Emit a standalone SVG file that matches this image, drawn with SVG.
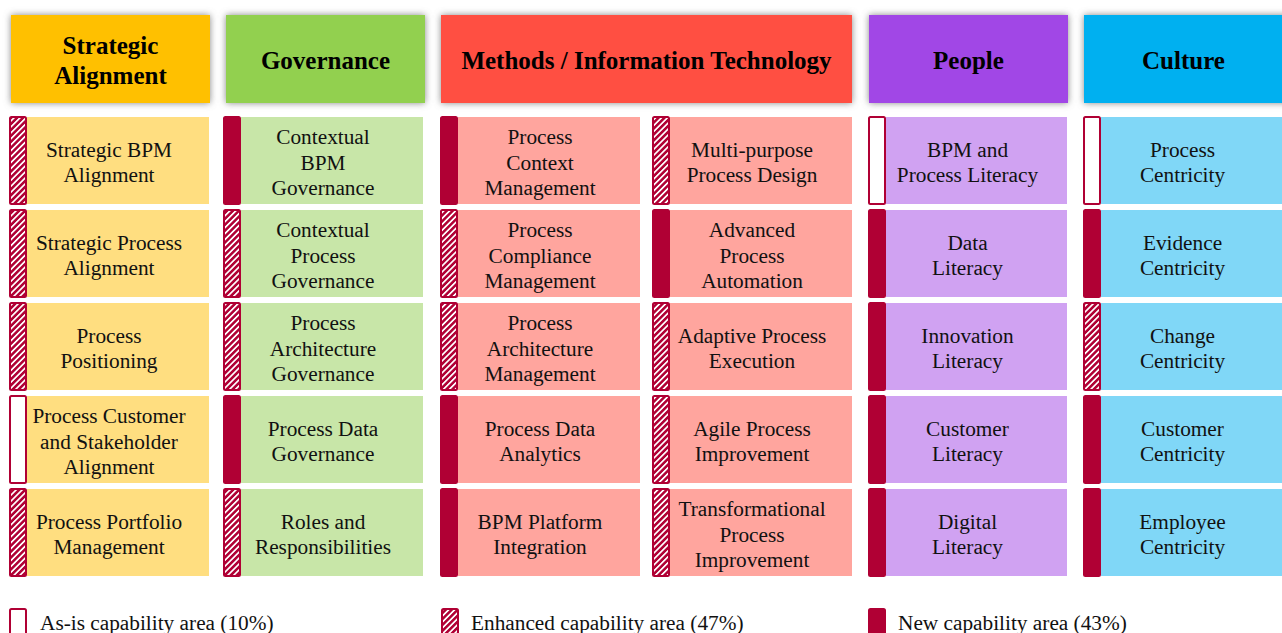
<svg xmlns="http://www.w3.org/2000/svg" width="1282" height="633" viewBox="0 0 1282 633">
<style>
.h{font-family:"Liberation Serif","Times New Roman",serif;font-weight:bold;font-size:25px;text-anchor:middle;fill:#000}
.t{font-family:"Liberation Serif","Times New Roman",serif;font-size:21.3px;text-anchor:middle;fill:#111}
.lg{font-family:"Liberation Serif","Times New Roman",serif;font-size:21.3px;fill:#111}
.new{fill:#B00034;stroke:#B00034;stroke-width:2}
.enh{fill:url(#hatch);stroke:#B00034;stroke-width:2}
.asis{fill:#fff;stroke:#B00034;stroke-width:2}
.sa{fill:#FFDE80}.go{fill:#C8E6A8}.me{fill:#FFA59E}.pe{fill:#D0A2F2}.cu{fill:#80D7F7}
</style>
<defs>
<pattern id="hatch" patternUnits="userSpaceOnUse" width="4.2" height="4.2" patternTransform="rotate(45)">
<rect width="4.2" height="4.2" fill="#B00034"/>
<rect x="0" y="0" width="1.7" height="4.2" fill="#fff"/>
</pattern>
<filter id="sh" x="-10%" y="-20%" width="120%" height="140%">
<feDropShadow dx="0" dy="0" stdDeviation="3.5" flood-color="#7a7a7a" flood-opacity="0.9"/>
</filter>
</defs>
<rect width="1282" height="633" fill="#fff"/>

<g id="headers">
<g id="h-strategic"><rect x="11" y="15" width="199" height="88" fill="#FFC000" filter="url(#sh)"/><text class="h" x="110.5" y="54">Strategic</text><text class="h" x="110.5" y="84">Alignment</text></g>
<g id="h-governance"><rect x="226" y="15" width="199" height="88" fill="#92D050" filter="url(#sh)"/><text class="h" x="325.5" y="69">Governance</text></g>
<g id="h-methods"><rect x="441" y="15" width="411" height="88" fill="#FF5042" filter="url(#sh)"/><text class="h" x="646.5" y="69">Methods / Information Technology</text></g>
<g id="h-people"><rect x="869" y="15" width="199" height="88" fill="#A146E6" filter="url(#sh)"/><text class="h" x="968.5" y="69">People</text></g>
<g id="h-culture"><rect x="1084" y="15" width="210" height="88" fill="#00B0F0" filter="url(#sh)"/><text class="h" x="1183.5" y="69">Culture</text></g>
</g>

<g id="connectors"></g>

<g id="cells">
<g id="c-sa1"><rect class="sa" x="27" y="117" width="182" height="87"/><rect class="enh" x="10" y="117" width="16" height="87" rx="1.5"/><text class="t" x="109" y="156.8">Strategic BPM</text><text class="t" x="109" y="182.3">Alignment</text></g>
<g id="c-sa2"><rect class="sa" x="27" y="210" width="182" height="87"/><rect class="enh" x="10" y="210" width="16" height="87" rx="1.5"/><text class="t" x="109" y="249.8">Strategic Process</text><text class="t" x="109" y="275.3">Alignment</text></g>
<g id="c-sa3"><rect class="sa" x="27" y="303" width="182" height="87"/><rect class="enh" x="10" y="303" width="16" height="87" rx="1.5"/><text class="t" x="109" y="342.8">Process</text><text class="t" x="109" y="368.3">Positioning</text></g>
<g id="c-sa4"><rect class="sa" x="27" y="396" width="182" height="87"/><rect class="asis" x="10" y="396" width="16" height="87" rx="1.5"/><text class="t" x="109" y="423">Process Customer</text><text class="t" x="109" y="448.5">and Stakeholder</text><text class="t" x="109" y="474">Alignment</text></g>
<g id="c-sa5"><rect class="sa" x="27" y="489" width="182" height="87"/><rect class="enh" x="10" y="489" width="16" height="87" rx="1.5"/><text class="t" x="109" y="528.8">Process Portfolio</text><text class="t" x="109" y="554.3">Management</text></g>

<g id="c-go1"><rect class="go" x="241" y="117" width="182" height="87"/><rect class="new" x="224" y="117" width="16" height="87" rx="1.5"/><text class="t" x="323" y="144">Contextual</text><text class="t" x="323" y="169.5">BPM</text><text class="t" x="323" y="195">Governance</text></g>
<g id="c-go2"><rect class="go" x="241" y="210" width="182" height="87"/><rect class="enh" x="224" y="210" width="16" height="87" rx="1.5"/><text class="t" x="323" y="237">Contextual</text><text class="t" x="323" y="262.5">Process</text><text class="t" x="323" y="288">Governance</text></g>
<g id="c-go3"><rect class="go" x="241" y="303" width="182" height="87"/><rect class="enh" x="224" y="303" width="16" height="87" rx="1.5"/><text class="t" x="323" y="330">Process</text><text class="t" x="323" y="355.5">Architecture</text><text class="t" x="323" y="381">Governance</text></g>
<g id="c-go4"><rect class="go" x="241" y="396" width="182" height="87"/><rect class="new" x="224" y="396" width="16" height="87" rx="1.5"/><text class="t" x="323" y="435.8">Process Data</text><text class="t" x="323" y="461.3">Governance</text></g>
<g id="c-go5"><rect class="go" x="241" y="489" width="182" height="87"/><rect class="enh" x="224" y="489" width="16" height="87" rx="1.5"/><text class="t" x="323" y="528.8">Roles and</text><text class="t" x="323" y="554.3">Responsibilities</text></g>

<g id="c-ma1"><rect class="me" x="458" y="117" width="182" height="87"/><rect class="new" x="441" y="117" width="16" height="87" rx="1.5"/><text class="t" x="540" y="144">Process</text><text class="t" x="540" y="169.5">Context</text><text class="t" x="540" y="195">Management</text></g>
<g id="c-ma2"><rect class="me" x="458" y="210" width="182" height="87"/><rect class="enh" x="441" y="210" width="16" height="87" rx="1.5"/><text class="t" x="540" y="237">Process</text><text class="t" x="540" y="262.5">Compliance</text><text class="t" x="540" y="288">Management</text></g>
<g id="c-ma3"><rect class="me" x="458" y="303" width="182" height="87"/><rect class="enh" x="441" y="303" width="16" height="87" rx="1.5"/><text class="t" x="540" y="330">Process</text><text class="t" x="540" y="355.5">Architecture</text><text class="t" x="540" y="381">Management</text></g>
<g id="c-ma4"><rect class="me" x="458" y="396" width="182" height="87"/><rect class="new" x="441" y="396" width="16" height="87" rx="1.5"/><text class="t" x="540" y="435.8">Process Data</text><text class="t" x="540" y="461.3">Analytics</text></g>
<g id="c-ma5"><rect class="me" x="458" y="489" width="182" height="87"/><rect class="new" x="441" y="489" width="16" height="87" rx="1.5"/><text class="t" x="540" y="528.8">BPM Platform</text><text class="t" x="540" y="554.3">Integration</text></g>

<g id="c-mb1"><rect class="me" x="670" y="117" width="182" height="87"/><rect class="enh" x="653" y="117" width="16" height="87" rx="1.5"/><text class="t" x="752" y="156.8">Multi-purpose</text><text class="t" x="752" y="182.3">Process Design</text></g>
<g id="c-mb2"><rect class="me" x="670" y="210" width="182" height="87"/><rect class="new" x="653" y="210" width="16" height="87" rx="1.5"/><text class="t" x="752" y="237">Advanced</text><text class="t" x="752" y="262.5">Process</text><text class="t" x="752" y="288">Automation</text></g>
<g id="c-mb3"><rect class="me" x="670" y="303" width="182" height="87"/><rect class="enh" x="653" y="303" width="16" height="87" rx="1.5"/><text class="t" x="752" y="342.8">Adaptive Process</text><text class="t" x="752" y="368.3">Execution</text></g>
<g id="c-mb4"><rect class="me" x="670" y="396" width="182" height="87"/><rect class="enh" x="653" y="396" width="16" height="87" rx="1.5"/><text class="t" x="752" y="435.8">Agile Process</text><text class="t" x="752" y="461.3">Improvement</text></g>
<g id="c-mb5"><rect class="me" x="670" y="489" width="182" height="87"/><rect class="enh" x="653" y="489" width="16" height="87" rx="1.5"/><text class="t" x="752" y="516">Transformational</text><text class="t" x="752" y="541.5">Process</text><text class="t" x="752" y="567">Improvement</text></g>

<g id="c-pe1"><rect class="pe" x="886" y="117" width="181" height="87"/><rect class="asis" x="869" y="117" width="16" height="87" rx="1.5"/><text class="t" x="967.5" y="156.8">BPM and</text><text class="t" x="967.5" y="182.3">Process Literacy</text></g>
<g id="c-pe2"><rect class="pe" x="886" y="210" width="181" height="87"/><rect class="new" x="869" y="210" width="16" height="87" rx="1.5"/><text class="t" x="967.5" y="249.8">Data</text><text class="t" x="967.5" y="275.3">Literacy</text></g>
<g id="c-pe3"><rect class="pe" x="886" y="303" width="181" height="87"/><rect class="new" x="869" y="303" width="16" height="87" rx="1.5"/><text class="t" x="967.5" y="342.8">Innovation</text><text class="t" x="967.5" y="368.3">Literacy</text></g>
<g id="c-pe4"><rect class="pe" x="886" y="396" width="181" height="87"/><rect class="new" x="869" y="396" width="16" height="87" rx="1.5"/><text class="t" x="967.5" y="435.8">Customer</text><text class="t" x="967.5" y="461.3">Literacy</text></g>
<g id="c-pe5"><rect class="pe" x="886" y="489" width="181" height="87"/><rect class="new" x="869" y="489" width="16" height="87" rx="1.5"/><text class="t" x="967.5" y="528.8">Digital</text><text class="t" x="967.5" y="554.3">Literacy</text></g>

<g id="c-cu1"><rect class="cu" x="1101" y="117" width="181" height="87"/><rect class="asis" x="1084" y="117" width="16" height="87" rx="1.5"/><text class="t" x="1182.5" y="156.8">Process</text><text class="t" x="1182.5" y="182.3">Centricity</text></g>
<g id="c-cu2"><rect class="cu" x="1101" y="210" width="181" height="87"/><rect class="new" x="1084" y="210" width="16" height="87" rx="1.5"/><text class="t" x="1182.5" y="249.8">Evidence</text><text class="t" x="1182.5" y="275.3">Centricity</text></g>
<g id="c-cu3"><rect class="cu" x="1101" y="303" width="181" height="87"/><rect class="enh" x="1084" y="303" width="16" height="87" rx="1.5"/><text class="t" x="1182.5" y="342.8">Change</text><text class="t" x="1182.5" y="368.3">Centricity</text></g>
<g id="c-cu4"><rect class="cu" x="1101" y="396" width="181" height="87"/><rect class="new" x="1084" y="396" width="16" height="87" rx="1.5"/><text class="t" x="1182.5" y="435.8">Customer</text><text class="t" x="1182.5" y="461.3">Centricity</text></g>
<g id="c-cu5"><rect class="cu" x="1101" y="489" width="181" height="87"/><rect class="new" x="1084" y="489" width="16" height="87" rx="1.5"/><text class="t" x="1182.5" y="528.8">Employee</text><text class="t" x="1182.5" y="554.3">Centricity</text></g>
</g>

<g id="legend">
<g id="lg-asis"><rect class="asis" x="10" y="609" width="16" height="30" rx="1.5"/><text class="lg" x="40" y="630">As-is capability area (10%)</text></g>
<g id="lg-enh"><rect class="enh" x="442" y="609" width="16" height="30" rx="1.5"/><text class="lg" x="471" y="630">Enhanced capability area (47%)</text></g>
<g id="lg-new"><rect class="new" x="869" y="609" width="16" height="30" rx="1.5"/><text class="lg" x="898" y="630">New capability area (43%)</text></g>
</g>
</svg>
